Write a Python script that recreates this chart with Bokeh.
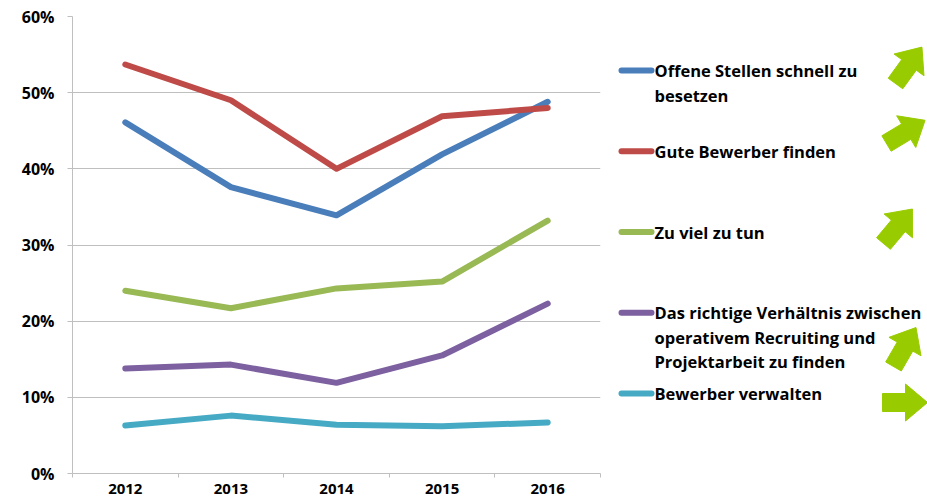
import math
from bokeh.plotting import figure
from bokeh.layouts import row
from bokeh.models import Range1d, FixedTicker, NumeralTickFormatter
from bokeh.core.properties import value
from bokeh.embed import file_html
from bokeh.resources import INLINE

# ---- data ----
years = ["2012", "2013", "2014", "2015", "2016"]
series_names = [
    "Offene Stellen schnell zu\nbesetzen",
    "Gute Bewerber finden",
    "Zu viel zu tun",
    "Das richtige Verhältnis zwischen\noperativem Recruiting und\nProjektarbeit zu finden",
    "Bewerber verwalten",
]
offene_stellen = [0.461, 0.376, 0.339, 0.419, 0.488]
gute_bewerber = [0.537, 0.490, 0.400, 0.469, 0.480]
zu_viel = [0.240, 0.217, 0.243, 0.252, 0.332]
verhaeltnis = [0.138, 0.143, 0.119, 0.155, 0.223]
verwalten = [0.063, 0.076, 0.064, 0.062, 0.067]
series_values = [offene_stellen, gute_bewerber, zu_viel, verhaeltnis, verwalten]
series_colors = ["#4A7EBB", "#BE4B48", "#98B954", "#7D60A0", "#46AAC5"]
trend_angles = [54, 31, 50, 60, 0]  # arrow direction in degrees
y_ticks = [0.0, 0.1, 0.2, 0.3, 0.4, 0.5, 0.6]

FONT = "Open Sans"
GRID = "#BFBFBF"

# ---- main chart ----
p = figure(width=608, height=504, x_range=Range1d(0, len(years)), y_range=Range1d(0, 0.6),
           output_backend="svg", toolbar_location=None,
           min_border_left=72, min_border_right=8, min_border_top=16, min_border_bottom=31)
p.outline_line_color = None
p.background_fill_color = "white"

xs = [i + 0.5 for i in range(len(years))]
for vals, col in zip(series_values, series_colors):
    p.line(xs, vals, line_color=col, line_width=6, line_cap="round", line_join="round")

p.xgrid.visible = False
p.ygrid.grid_line_color = GRID
p.ygrid.ticker = FixedTicker(ticks=y_ticks)

xa = p.xaxis[0]
xa.ticker = FixedTicker(ticks=xs, minor_ticks=list(range(len(years) + 1)))
xa.major_label_overrides = {x: y for x, y in zip(xs, years)}
xa.axis_line_color = GRID
xa.major_tick_line_color = None
xa.major_tick_out = 4
xa.major_tick_in = 0
xa.minor_tick_line_color = GRID
xa.minor_tick_out = 4
xa.minor_tick_in = 0
xa.major_label_standoff = 6
xa.major_label_text_font = FONT
xa.major_label_text_font_style = "bold"
xa.major_label_text_font_size = "15px"
xa.major_label_text_color = "#000000"

ya = p.yaxis[0]
ya.ticker = FixedTicker(ticks=y_ticks)
ya.formatter = NumeralTickFormatter(format="0%")
ya.axis_line_color = GRID
ya.major_tick_line_color = GRID
ya.major_tick_out = 5
ya.major_tick_in = 0
ya.minor_tick_line_color = None
ya.major_label_standoff = 13
ya.major_label_text_font = FONT
ya.major_label_text_font_style = "bold"
ya.major_label_text_font_size = "16px"
ya.major_label_text_color = "#000000"

# ---- legend + trend arrows panel (pixel-like coordinates) ----
# frame is aligned with the main chart's frame (16..473 vertically)
q = figure(width=319, height=504, x_range=Range1d(608, 927), y_range=Range1d(473, 16),
           output_backend="svg", toolbar_location=None,
           min_border_left=0, min_border_right=0, min_border_top=16, min_border_bottom=31,
           x_axis_location=None, y_axis_location=None)
q.outline_line_color = None
q.xgrid.visible = False
q.ygrid.visible = False

leg_top, leg_step, line_h = 70, 80.75, 24.5
sx0, sx1, tx = 621, 651, 654
tx_list, ty_list, tt_list = [], [], []
for i, (name, col) in enumerate(zip(series_names, series_colors)):
    yi = leg_top + i * leg_step
    q.line([sx0, sx1], [yi, yi], line_color=col, line_width=6, line_cap="round")
    for j, ln in enumerate(name.split("\n")):
        tx_list.append(tx)
        ty_list.append(yi + j * line_h)
        tt_list.append(ln)
q.text(x=tx_list, y=ty_list, text=tt_list, text_baseline="middle", text_align="left",
       text_font=value(FONT), text_font_style="bold", text_font_size="16.5px", text_color="#000000")

# arrows: tail centers (layout) + trend angle
tails = [(895, 83), (886, 143), (883, 243), (893, 366), (882, 402)]
L, HL, SW, HW = 45, 22, 18, 37
shape = [(0, -SW / 2), (L - HL, -SW / 2), (L - HL, -HW / 2), (L, 0),
         (L - HL, HW / 2), (L - HL, SW / 2), (0, SW / 2)]
axs, ays = [], []
for (x0, y0), ang in zip(tails, trend_angles):
    a = math.radians(ang)
    ca, sa = math.cos(a), math.sin(a)
    axs.append([x0 + u * ca - v * sa for u, v in shape])
    ays.append([y0 - (u * sa + v * ca) for u, v in shape])
q.patches(axs, ays, fill_color="#99CC00", line_color="#99CC00", line_width=1)

layout = row(p, q)
open("out.html", "w").write(file_html(layout, INLINE))
